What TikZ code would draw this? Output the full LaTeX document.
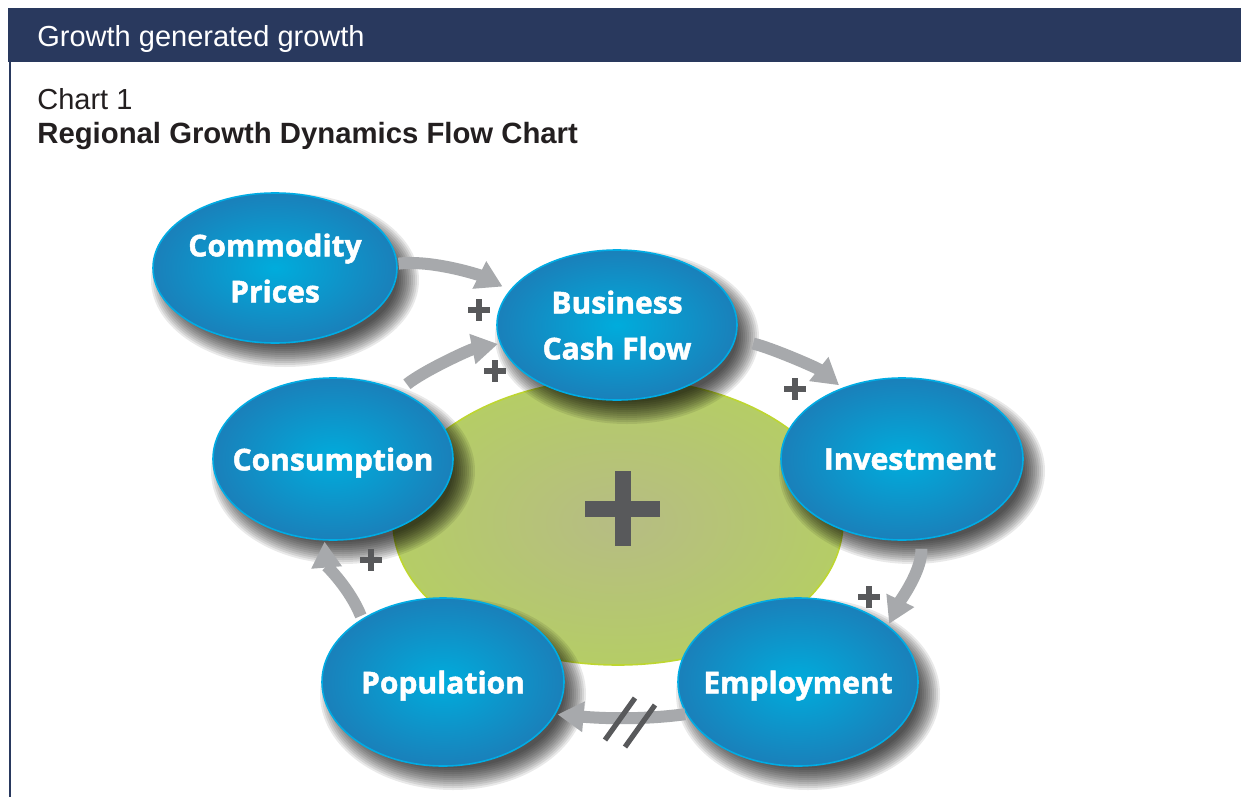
\documentclass[tikz,border=0pt]{standalone}
\usepackage{fontspec}
\usetikzlibrary{shapes.geometric,arrows.meta}
\newfontfamily\headfont{Liberation Sans}
\newfontfamily\bubblefont{Open Sans}[BoldFeatures={FakeBold=1.6}]

\definecolor{navy}{RGB}{41,57,94}
\definecolor{inkblack}{RGB}{35,31,32}
\definecolor{bubin}{RGB}{0,172,220}
\definecolor{bubout}{RGB}{26,128,186}
\definecolor{bubline}{RGB}{0,172,228}
\definecolor{corein}{RGB}{182,188,132}
\definecolor{coreout}{RGB}{181,205,102}
\definecolor{coreline}{RGB}{190,214,48}
\definecolor{arrowgray}{RGB}{167,169,172}
\definecolor{plusgray}{RGB}{88,89,91}

\tikzset{
  bubble/.style={ellipse, inner sep=0pt, shade, inner color=bubin, outer color=bubout,
    draw=bubline, line width=0.8pt},
  bubbletext/.style={inner sep=0pt, text=white, align=center, text depth=0pt,
    font=\bubblefont\bfseries\fontsize{15}{23}\selectfont},
  core/.style={ellipse, inner sep=0pt, shade, inner color=corein, outer color=coreout,
    draw=coreline, line width=0.8pt},
  flow/.style={draw=arrowgray, line width=6pt,
    -{Triangle[width=14.5pt,length=13pt]}},
  plusmark/.style 2 args={minimum size=#1, inner sep=0pt, outer sep=0pt,
    path picture={
      \fill[plusgray] ([xshift=-#2]path picture bounding box.north)
        rectangle ([xshift=#2]path picture bounding box.south);
      \fill[plusgray] ([yshift=-#2]path picture bounding box.west)
        rectangle ([yshift=#2]path picture bounding box.east);}},
  headtext/.style={anchor=base west, inner sep=0pt, font=\headfont\fontsize{14.5}{17}\selectfont}
}

% soft drop shadow followed by the bubble node itself
% [#1] extra label options, #2 name, #3 x, #4 y, #5 x radius, #6 y radius, #7 text
\newcommand\bubblenode[7][]{%
  \foreach \k in {0,...,11}{%
    \fill[black,opacity=0.085] (#3+10,#4+12)
      ellipse [x radius={#5+12-2*\k}, y radius={#6+12-2*\k}];}
  \node[bubble, minimum width=#5pt, minimum height=#6pt,
        label={[bubbletext,#1]center:{#7}}] (#2) at (#3,#4) {};
}

\begin{document}
\begin{tikzpicture}[x=0.5pt,y=-0.5pt]
\useasboundingbox (0,0) rectangle (1241,797);
\fill[white] (0,0) rectangle (1241,797);

% header band and frame line
\fill[navy] (8,8) rectangle (1241,62.5);
\fill[navy] (9,62) rectangle (11.3,797);
\node[headtext, text=white] (hdr) at (37,46.7) {Growth generated growth};
\node[headtext, text=inkblack] (chartno) at (37,110) {Chart 1};
\node[headtext, text=inkblack, font=\headfont\bfseries\fontsize{14.65}{17}\selectfont]
  (charttitle) at (37,143) {Regional Growth Dynamics Flow Chart};

% central field
\node[core, minimum width=225pt, minimum height=143pt] (field) at (618,522) {};
\node[plusmark={37.5pt}{4pt}] (bigplus) at (622.5,508.5) {};

% the six drivers
\bubblenode{cp}{275}{268}{122}{75}{Commodity\\Prices}
\bubblenode{bcf}{617}{325}{120}{75}{Business\\Cash Flow}
\bubblenode[xshift=4pt]{inv}{902}{459}{121}{81}{Investment}
\bubblenode{con}{333}{459}{120}{81}{Consumption}
\bubblenode{pop}{443}{682}{121}{84}{Population}
\bubblenode{emp}{798}{682}{120}{84}{Employment}

% causal links
\draw[flow, shorten <=0.5pt, shorten >=4pt]
  (cp.2) .. controls +(35,-4) and +(-30,-15) .. (bcf.162);
\draw[flow, shorten <=5pt, shorten >=1pt]
  (con.46) .. controls +(25,-20) and +(-30,6) .. (bcf.189);
\draw[flow, shorten <=9pt, shorten >=2pt]
  (bcf.-7) .. controls +(35,8) and +(-25,-20) .. (inv.130);
\draw[flow, shorten <=4.5pt, shorten >=1pt]
  (inv.-77) .. controls +(2,30) and +(12,-25) .. (emp.32);
\draw[flow, shorten <=0.5pt, shorten >=1pt]
  (emp.196) .. controls +(-45,6) and +(45,4) .. (pop.-16.5);
\draw[flow, shorten <=1.5pt, shorten >=0.5pt]
  (pop.142) .. controls +(-12,-30) and +(2,25) .. (con.-96);

% signs on the links
\node[plusmark={11.3pt}{1.5pt}] (s1) at (479,310) {};
\node[plusmark={11.3pt}{1.5pt}] (s2) at (495,371) {};
\node[plusmark={11.3pt}{1.5pt}] (s3) at (795,389) {};
\node[plusmark={11.3pt}{1.5pt}] (s4) at (869,597) {};
\node[plusmark={11.3pt}{1.5pt}] (s5) at (371,560) {};

% delay mark on the employment-population link
\coordinate (delay) at (630,722);
\draw[plusgray, line width=2.6pt]
  ([shift={(5,-24)}]delay) -- ([shift={(-25,18)}]delay)
  ([shift={(25,-17)}]delay) -- ([shift={(-5,25)}]delay);
\end{tikzpicture}
\end{document}
